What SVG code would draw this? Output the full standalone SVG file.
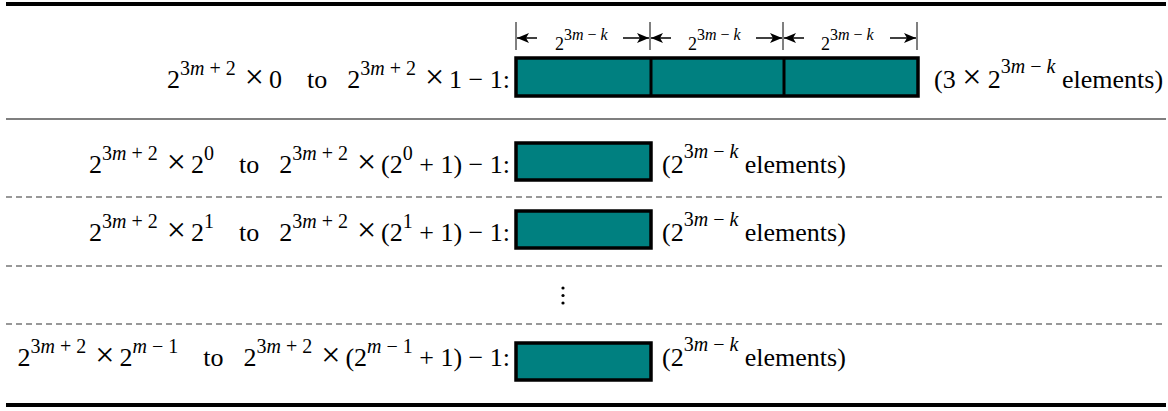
<svg xmlns="http://www.w3.org/2000/svg" width="1168" height="411" viewBox="0 0 1168 411">
<style>
.t{font-family:"Liberation Serif","Times New Roman",Times,serif;font-size:26px;fill:#000}
.s{font-size:20px}
.x{font-size:34px}
.d{font-family:"Liberation Serif","Times New Roman",Times,serif;font-size:18px;fill:#000}
.ds{font-size:16px}
.i{font-style:italic}
.blk{fill:#008080;stroke:#000;stroke-width:3.5}
.div{stroke:#000;stroke-width:3}
.thick{stroke:#000;stroke-width:4}
.thin{stroke:#000;stroke-width:1.2}
.dash{stroke:#333;stroke-width:1.2;stroke-dasharray:6 4}
.tick{stroke:#000;stroke-width:1}
.arr{stroke:#000;stroke-width:1.5;fill:none}
</style>
<defs>
<marker id="ah" viewBox="0 0 12 10" refX="12" refY="5" markerWidth="12" markerHeight="10" markerUnits="userSpaceOnUse" orient="auto">
<path d="M0,0 L12,5 L0,10 L3,5 z" fill="#000"/>
</marker>
</defs>
<rect width="1168" height="411" fill="#fff"/>
<g id="rules">
<line class="thick" x1="6" y1="4" x2="1166" y2="4"/>
<line class="thin" x1="6" y1="119" x2="1166" y2="119"/>
<line class="dash" x1="6" y1="197" x2="1166" y2="197"/>
<line class="dash" x1="6" y1="266" x2="1166" y2="266"/>
<line class="dash" x1="6" y1="324" x2="1166" y2="324"/>
<line class="thick" x1="6" y1="405" x2="1166" y2="405"/>
</g>
<g id="row1">
<text class="t" x="510" y="88" text-anchor="end">2<tspan class="s" dy="-13">3<tspan class="i">m</tspan> + 2</tspan><tspan class="x" dy="13" dx="9">×</tspan><tspan dx="5">0</tspan><tspan dx="25">to</tspan><tspan dx="20">2</tspan><tspan class="s" dy="-13">3<tspan class="i">m</tspan> + 2</tspan><tspan class="x" dy="13" dx="9">×</tspan><tspan dx="5">1 − 1:</tspan></text>
<rect class="blk" x="516" y="58" width="402" height="38"/>
<line class="div" x1="651" y1="58" x2="651" y2="96"/>
<line class="div" x1="784" y1="58" x2="784" y2="96"/>
<text class="t" x="934" y="88">(3 <tspan class="x">×</tspan> 2<tspan class="s" dy="-15">3<tspan class="i">m</tspan> − <tspan class="i">k</tspan></tspan><tspan dy="15"> elements)</tspan></text>
</g>
<g id="dims">
<line class="tick" x1="516" y1="22" x2="516" y2="50"/>
<line class="tick" x1="650" y1="22" x2="650" y2="50"/>
<line class="tick" x1="783" y1="22" x2="783" y2="50"/>
<line class="tick" x1="917" y1="22" x2="917" y2="50"/>
<line class="arr" x1="537" y1="38" x2="517" y2="38" marker-end="url(#ah)"/>
<line class="arr" x1="623" y1="38" x2="649" y2="38" marker-end="url(#ah)"/>
<line class="arr" x1="671" y1="38" x2="651" y2="38" marker-end="url(#ah)"/>
<line class="arr" x1="756" y1="38" x2="782" y2="38" marker-end="url(#ah)"/>
<line class="arr" x1="804" y1="38" x2="784" y2="38" marker-end="url(#ah)"/>
<line class="arr" x1="890" y1="38" x2="916" y2="38" marker-end="url(#ah)"/>
<text class="d" x="555" y="50">2<tspan class="ds" dy="-10">3<tspan class="i">m</tspan> − <tspan class="i">k</tspan></tspan></text>
<text class="d" x="688" y="50">2<tspan class="ds" dy="-10">3<tspan class="i">m</tspan> − <tspan class="i">k</tspan></tspan></text>
<text class="d" x="821" y="50">2<tspan class="ds" dy="-10">3<tspan class="i">m</tspan> − <tspan class="i">k</tspan></tspan></text>
</g>
<g id="row2">
<text class="t" x="510" y="173" text-anchor="end">2<tspan class="s" dy="-13">3<tspan class="i">m</tspan> + 2</tspan><tspan class="x" dy="13" dx="9">×</tspan><tspan dx="5">2</tspan><tspan class="s" dy="-13">0</tspan><tspan dy="13" dx="25">to</tspan><tspan dx="20">2</tspan><tspan class="s" dy="-13">3<tspan class="i">m</tspan> + 2</tspan><tspan class="x" dy="13" dx="9">×</tspan><tspan dx="5">(2</tspan><tspan class="s" dy="-13">0</tspan><tspan dy="13"> + 1) − 1:</tspan></text>
<rect class="blk" x="516" y="143" width="135" height="37"/>
<text class="t" x="662" y="173">(2<tspan class="s" dy="-15">3<tspan class="i">m</tspan> − <tspan class="i">k</tspan></tspan><tspan dy="15"> elements)</tspan></text>
</g>
<g id="row3">
<text class="t" x="510" y="241" text-anchor="end">2<tspan class="s" dy="-13">3<tspan class="i">m</tspan> + 2</tspan><tspan class="x" dy="13" dx="9">×</tspan><tspan dx="5">2</tspan><tspan class="s" dy="-13">1</tspan><tspan dy="13" dx="25">to</tspan><tspan dx="20">2</tspan><tspan class="s" dy="-13">3<tspan class="i">m</tspan> + 2</tspan><tspan class="x" dy="13" dx="9">×</tspan><tspan dx="5">(2</tspan><tspan class="s" dy="-13">1</tspan><tspan dy="13"> + 1) − 1:</tspan></text>
<rect class="blk" x="516" y="211" width="135" height="37"/>
<text class="t" x="662" y="241">(2<tspan class="s" dy="-15">3<tspan class="i">m</tspan> − <tspan class="i">k</tspan></tspan><tspan dy="15"> elements)</tspan></text>
</g>
<g id="ellipsis">
<circle cx="563" cy="288" r="1.6" fill="#000"/>
<circle cx="563" cy="295.5" r="1.6" fill="#000"/>
<circle cx="563" cy="303" r="1.6" fill="#000"/>
</g>
<g id="row5">
<text class="t" x="510" y="366" text-anchor="end">2<tspan class="s" dy="-13">3<tspan class="i">m</tspan> + 2</tspan><tspan class="x" dy="13" dx="9">×</tspan><tspan dx="5">2</tspan><tspan class="s" dy="-13"><tspan class="i">m</tspan> − 1</tspan><tspan dy="13" dx="25">to</tspan><tspan dx="20">2</tspan><tspan class="s" dy="-13">3<tspan class="i">m</tspan> + 2</tspan><tspan class="x" dy="13" dx="9">×</tspan><tspan dx="5">(2</tspan><tspan class="s" dy="-13"><tspan class="i">m</tspan> − 1</tspan><tspan dy="13"> + 1) − 1:</tspan></text>
<rect class="blk" x="516" y="343" width="135" height="37"/>
<text class="t" x="662" y="366">(2<tspan class="s" dy="-15">3<tspan class="i">m</tspan> − <tspan class="i">k</tspan></tspan><tspan dy="15"> elements)</tspan></text>
</g>
</svg>
